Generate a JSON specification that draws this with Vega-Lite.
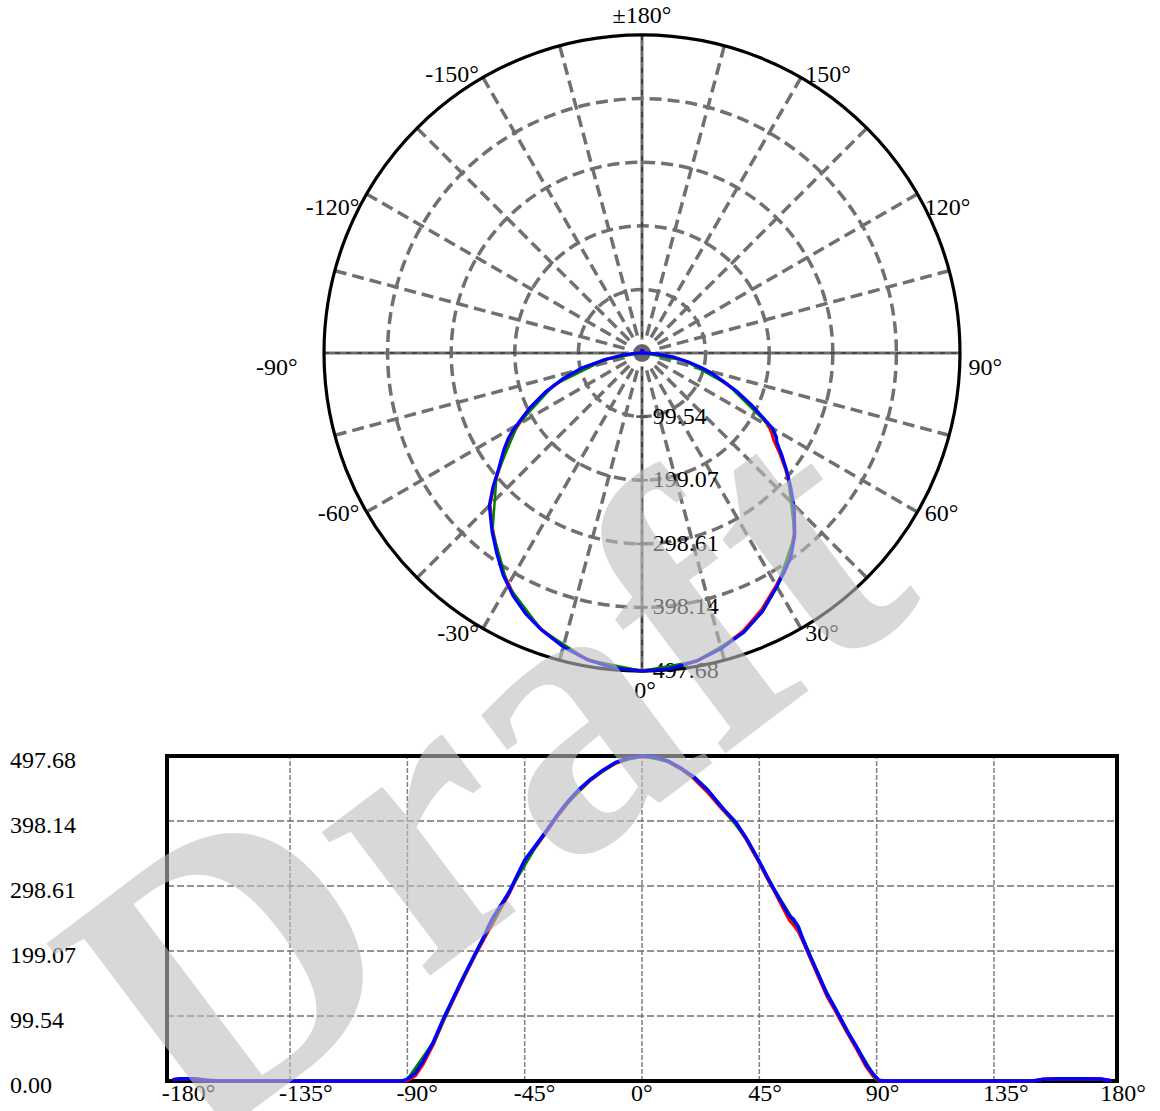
{
  "$schema": "https://vega.github.io/schema/vega-lite/v6.json",
  "autosize": {"type": "none"},
  "padding": 0,
  "width": 1160,
  "height": 1111,
  "background": "white",
  "config": {"view": {"stroke": null}, "font": "Liberation Serif"},
  "datasets": {
    "curve": [
      {"s":"blue","a":-180,"v":2},{"s":"blue","a":-177,"v":3.5},{"s":"blue","a":-172,"v":3.5},{"s":"blue","a":-167,"v":1},{"s":"blue","a":-162,"v":0},{"s":"blue","a":-130,"v":0},{"s":"blue","a":-100,"v":0},{"s":"blue","a":-94,"v":0},{"s":"blue","a":-92,"v":0},{"s":"blue","a":-90,"v":3},{"s":"blue","a":-87,"v":12},{"s":"blue","a":-84,"v":30},{"s":"blue","a":-80,"v":60},{"s":"blue","a":-76,"v":97},{"s":"blue","a":-72,"v":130},{"s":"blue","a":-68,"v":163},{"s":"blue","a":-64,"v":195},{"s":"blue","a":-61,"v":218},{"s":"blue","a":-59,"v":236},{"s":"blue","a":-57.5,"v":248},{"s":"blue","a":-55,"v":264},{"s":"blue","a":-51,"v":289},{"s":"blue","a":-48,"v":314},{"s":"blue","a":-45,"v":338},{"s":"blue","a":-40,"v":365},{"s":"blue","a":-36,"v":387},{"s":"blue","a":-32,"v":410},{"s":"blue","a":-28,"v":430},{"s":"blue","a":-24,"v":447},{"s":"blue","a":-20,"v":461},{"s":"blue","a":-15,"v":476},{"s":"blue","a":-10,"v":488},{"s":"blue","a":-5,"v":495},{"s":"blue","a":0,"v":497.68},{"s":"blue","a":5,"v":496},{"s":"blue","a":10,"v":490},{"s":"blue","a":15,"v":479},{"s":"blue","a":20,"v":465},{"s":"blue","a":25,"v":446},{"s":"blue","a":30,"v":422},{"s":"blue","a":33,"v":409},{"s":"blue","a":36,"v":396},{"s":"blue","a":40,"v":372},{"s":"blue","a":44.5,"v":340},{"s":"blue","a":48,"v":313},{"s":"blue","a":51,"v":291},{"s":"blue","a":54,"v":270},{"s":"blue","a":56.5,"v":253},{"s":"blue","a":58,"v":248},{"s":"blue","a":60,"v":236},{"s":"blue","a":62,"v":214},{"s":"blue","a":64.6,"v":190},{"s":"blue","a":68,"v":160},{"s":"blue","a":71,"v":133},{"s":"blue","a":74,"v":112},{"s":"blue","a":76,"v":97},{"s":"blue","a":79,"v":75},{"s":"blue","a":82.5,"v":51},{"s":"blue","a":86,"v":25},{"s":"blue","a":88.8,"v":10},{"s":"blue","a":91,"v":1},{"s":"blue","a":93,"v":0},{"s":"blue","a":120,"v":0},{"s":"blue","a":150,"v":0},{"s":"blue","a":154,"v":2.5},{"s":"blue","a":160,"v":3.5},{"s":"blue","a":170,"v":3.5},{"s":"blue","a":176,"v":3},{"s":"blue","a":180,"v":0.5},
      {"s":"red","a":-180,"v":2},{"s":"red","a":-177,"v":3.5},{"s":"red","a":-172,"v":3.5},{"s":"red","a":-167,"v":1},{"s":"red","a":-162,"v":0},{"s":"red","a":-130,"v":0},{"s":"red","a":-100,"v":0},{"s":"red","a":-94,"v":0},{"s":"red","a":-92,"v":0},{"s":"red","a":-90,"v":1},{"s":"red","a":-87,"v":8},{"s":"red","a":-84,"v":26},{"s":"red","a":-80,"v":57},{"s":"red","a":-76,"v":94},{"s":"red","a":-72,"v":128},{"s":"red","a":-68,"v":161},{"s":"red","a":-64,"v":193},{"s":"red","a":-61,"v":215},{"s":"red","a":-59,"v":230},{"s":"red","a":-57.5,"v":240},{"s":"red","a":-55,"v":259},{"s":"red","a":-51,"v":287},{"s":"red","a":-48,"v":312},{"s":"red","a":-45,"v":336},{"s":"red","a":-40,"v":363},{"s":"red","a":-36,"v":385},{"s":"red","a":-32,"v":408},{"s":"red","a":-28,"v":428},{"s":"red","a":-24,"v":445},{"s":"red","a":-20,"v":460},{"s":"red","a":-15,"v":475},{"s":"red","a":-10,"v":487},{"s":"red","a":-5,"v":494},{"s":"red","a":0,"v":497},{"s":"red","a":5,"v":495},{"s":"red","a":10,"v":489},{"s":"red","a":15,"v":478},{"s":"red","a":20,"v":463},{"s":"red","a":25,"v":443},{"s":"red","a":30,"v":420},{"s":"red","a":33,"v":407},{"s":"red","a":36,"v":394},{"s":"red","a":40,"v":370},{"s":"red","a":44.5,"v":338},{"s":"red","a":48,"v":311},{"s":"red","a":51,"v":289},{"s":"red","a":54,"v":266},{"s":"red","a":56.5,"v":247},{"s":"red","a":58,"v":240},{"s":"red","a":60,"v":229},{"s":"red","a":62,"v":212},{"s":"red","a":64.6,"v":188},{"s":"red","a":68,"v":157},{"s":"red","a":71,"v":130},{"s":"red","a":74,"v":109},{"s":"red","a":76,"v":94},{"s":"red","a":79,"v":72},{"s":"red","a":82.5,"v":48},{"s":"red","a":86,"v":22},{"s":"red","a":88.8,"v":7},{"s":"red","a":91,"v":0},{"s":"red","a":93,"v":0},{"s":"red","a":120,"v":0},{"s":"red","a":150,"v":0},{"s":"red","a":154,"v":2.5},{"s":"red","a":160,"v":3.5},{"s":"red","a":170,"v":3.5},{"s":"red","a":176,"v":3},{"s":"red","a":180,"v":0.5},
      {"s":"green","a":-90,"v":2},{"s":"green","a":-80,"v":59},{"s":"green","a":-70,"v":147},{"s":"green","a":-60,"v":225},{"s":"green","a":-50,"v":297},{"s":"green","a":-40,"v":364},{"s":"green","a":-30,"v":420},{"s":"green","a":-20,"v":461},{"s":"green","a":-10,"v":488},{"s":"green","a":0,"v":497.5},{"s":"green","a":10,"v":490},{"s":"green","a":20,"v":466},{"s":"green","a":25,"v":447},{"s":"green","a":30,"v":423},{"s":"green","a":40,"v":372},{"s":"green","a":50,"v":298},{"s":"green","a":58,"v":246},{"s":"green","a":60,"v":234},{"s":"green","a":70,"v":142},{"s":"green","a":80,"v":67},{"s":"green","a":90,"v":2}
    ]
  },
  "layer": [
    {
      "layer": [
        {
          "data": {"values": [{"a": 15}, {"a": 30}, {"a": 45}, {"a": 60}, {"a": 75}, {"a": 105}, {"a": 120}, {"a": 135}, {"a": 150}, {"a": 165}, {"a": -15}, {"a": -30}, {"a": -45}, {"a": -60}, {"a": -75}, {"a": -105}, {"a": -120}, {"a": -135}, {"a": -150}, {"a": -165}]},
          "transform": [
            {"calculate": "0", "as": "ox"},
            {"calculate": "0", "as": "oy"},
            {"calculate": "497.68 * sin(datum.a * PI / 180)", "as": "ex"},
            {"calculate": "-497.68 * cos(datum.a * PI / 180)", "as": "ey"}
          ],
          "mark": {"type": "rule", "color": "#707070", "strokeWidth": 3.5, "strokeDash": [12, 6]},
          "encoding": {
            "x": {"field": "ox", "type": "quantitative", "scale": {"domain": [-1004.74, 810.68], "nice": false, "zero": false}, "axis": null},
            "y": {"field": "oy", "type": "quantitative", "scale": {"domain": [-1186.28, 552.45], "nice": false, "zero": false}, "axis": null},
            "x2": {"field": "ex"},
            "y2": {"field": "ey"}
          }
        },
        {
          "data": {"values": [{"r": 99.54}, {"r": 199.07}, {"r": 298.61}, {"r": 398.14}]},
          "transform": [{"calculate": "0", "as": "ox"}, {"calculate": "0", "as": "oy"}],
          "mark": {"type": "point", "shape": "circle", "filled": false, "stroke": "#707070", "strokeWidth": 3.5, "strokeDash": [12, 6], "opacity": 1},
          "encoding": {
            "x": {"field": "ox", "type": "quantitative", "scale": {"domain": [-1004.74, 810.68], "nice": false, "zero": false}, "axis": null},
            "y": {"field": "oy", "type": "quantitative", "scale": {"domain": [-1186.28, 552.45], "nice": false, "zero": false}, "axis": null},
            "size": {"field": "r", "type": "quantitative", "scale": {"type": "pow", "exponent": 2, "domain": [0, 497.68], "range": [0, 404496], "zero": true}, "legend": null}
          }
        },
        {
          "data": {"values": [{"a": 0}, {"a": 90}]},
          "transform": [
            {"calculate": "497.68 * sin(datum.a * PI / 180)", "as": "ex"},
            {"calculate": "-497.68 * cos(datum.a * PI / 180)", "as": "ey"},
            {"calculate": "-datum.ex", "as": "sx"},
            {"calculate": "-datum.ey", "as": "sy"}
          ],
          "mark": {"type": "rule", "color": "#6e6e6e", "strokeWidth": 3},
          "encoding": {
            "x": {"field": "sx", "type": "quantitative", "scale": {"domain": [-1004.74, 810.68], "nice": false, "zero": false}, "axis": null},
            "y": {"field": "sy", "type": "quantitative", "scale": {"domain": [-1186.28, 552.45], "nice": false, "zero": false}, "axis": null},
            "x2": {"field": "ex"},
            "y2": {"field": "ey"}
          }
        },
        {
          "data": {"values": [{"a": 0}, {"a": 90}]},
          "transform": [
            {"calculate": "497.68 * sin(datum.a * PI / 180)", "as": "ex"},
            {"calculate": "-497.68 * cos(datum.a * PI / 180)", "as": "ey"},
            {"calculate": "-datum.ex", "as": "sx"},
            {"calculate": "-datum.ey", "as": "sy"}
          ],
          "mark": {"type": "rule", "color": "#222222", "strokeWidth": 1.2, "strokeDash": [5, 6]},
          "encoding": {
            "x": {"field": "sx", "type": "quantitative", "scale": {"domain": [-1004.74, 810.68], "nice": false, "zero": false}, "axis": null},
            "y": {"field": "sy", "type": "quantitative", "scale": {"domain": [-1186.28, 552.45], "nice": false, "zero": false}, "axis": null},
            "x2": {"field": "ex"},
            "y2": {"field": "ey"}
          }
        },
        {
          "data": {"values": [{"r": 99.54}, {"r": 199.07}, {"r": 298.61}, {"r": 398.14}, {"r": 497.68}]},
          "transform": [
            {"calculate": "-datum.r", "as": "py"},
            {"calculate": "-9", "as": "t1"},
            {"calculate": "9", "as": "t2"}
          ],
          "mark": {"type": "rule", "color": "#555555", "strokeWidth": 2.5},
          "encoding": {
            "x": {"field": "t1", "type": "quantitative", "scale": {"domain": [-1004.74, 810.68], "nice": false, "zero": false}, "axis": null},
            "x2": {"field": "t2"},
            "y": {"field": "py", "type": "quantitative", "scale": {"domain": [-1186.28, 552.45], "nice": false, "zero": false}, "axis": null}
          }
        },
        {
          "data": {"values": [{"r": 497.68}]},
          "transform": [{"calculate": "0", "as": "ox"}, {"calculate": "0", "as": "oy"}],
          "mark": {"type": "point", "shape": "circle", "filled": false, "stroke": "black", "strokeWidth": 3.2, "opacity": 1},
          "encoding": {
            "x": {"field": "ox", "type": "quantitative", "scale": {"domain": [-1004.74, 810.68], "nice": false, "zero": false}, "axis": null},
            "y": {"field": "oy", "type": "quantitative", "scale": {"domain": [-1186.28, 552.45], "nice": false, "zero": false}, "axis": null},
            "size": {"field": "r", "type": "quantitative", "scale": {"type": "pow", "exponent": 2, "domain": [0, 497.68], "range": [0, 404496], "zero": true}, "legend": null}
          }
        },
        {
          "data": {"values": [{"r": 21, "c": "white"}, {"r": 14, "c": "#666666"}]},
          "transform": [{"calculate": "0", "as": "ox"}, {"calculate": "0", "as": "oy"}],
          "mark": {"type": "point", "shape": "circle", "filled": true, "opacity": 1, "strokeWidth": 0},
          "encoding": {
            "x": {"field": "ox", "type": "quantitative", "scale": {"domain": [-1004.74, 810.68], "nice": false, "zero": false}, "axis": null},
            "y": {"field": "oy", "type": "quantitative", "scale": {"domain": [-1186.28, 552.45], "nice": false, "zero": false}, "axis": null},
            "size": {"field": "r", "type": "quantitative", "scale": {"type": "pow", "exponent": 2, "domain": [0, 497.68], "range": [0, 404496], "zero": true}, "legend": null},
            "color": {"field": "c", "type": "nominal", "scale": null},
            "order": {"field": "r", "type": "quantitative", "sort": "descending"}
          }
        },
        {
          "data": {"values": [{"t": "99.54", "r": 99.54}, {"t": "199.07", "r": 199.07}, {"t": "298.61", "r": 298.61}, {"t": "398.14", "r": 398.14}, {"t": "497.68", "r": 497.68}]},
          "transform": [{"calculate": "-datum.r", "as": "py"}, {"calculate": "17", "as": "px"}],
          "mark": {"type": "text", "align": "left", "baseline": "middle", "fontSize": 24, "color": "black", "dy": 0},
          "encoding": {
            "x": {"field": "px", "type": "quantitative", "scale": {"domain": [-1004.74, 810.68], "nice": false, "zero": false}, "axis": null},
            "y": {"field": "py", "type": "quantitative", "scale": {"domain": [-1186.28, 552.45], "nice": false, "zero": false}, "axis": null},
            "text": {"field": "t", "type": "nominal"}
          }
        },
        {
          "data": {"values": [{"t": "±180°", "a": 180}, {"t": "150°", "a": 150}, {"t": "120°", "a": 120}, {"t": "90°", "a": 90}, {"t": "60°", "a": 60}, {"t": "30°", "a": 30}, {"t": "0°", "a": 0}, {"t": "-30°", "a": -30}, {"t": "-60°", "a": -60}, {"t": "-90°", "a": -90}, {"t": "-120°", "a": -120}, {"t": "-150°", "a": -150}]},
          "transform": [
            {"calculate": "abs(sin(datum.a * PI / 180)) < 0.1 ? 526 : 511", "as": "lr"},
            {"calculate": "datum.lr * sin(datum.a * PI / 180)", "as": "px"},
            {"calculate": "-datum.lr * cos(datum.a * PI / 180)", "as": "py"}
          ],
          "mark": {"type": "text", "baseline": "middle", "fontSize": 24, "color": "black",
            "dy": {"expr": "abs(datum.a) == 150 ? 5 : (abs(datum.a) == 120 ? 18 : (abs(datum.a) == 90 ? 15 : (abs(datum.a) == 180 ? -1 : (datum.a == 0 ? 2 : -2))))"},
            "dx": {"expr": "datum.a == -90 ? -18 : (datum.a == 0 ? 3 : 0)"},
            "align": {"expr": "datum.a > 0 && datum.a < 180 ? 'left' : (datum.a < 0 ? 'right' : 'center')"}},
          "encoding": {
            "x": {"field": "px", "type": "quantitative", "scale": {"domain": [-1004.74, 810.68], "nice": false, "zero": false}, "axis": null},
            "y": {"field": "py", "type": "quantitative", "scale": {"domain": [-1186.28, 552.45], "nice": false, "zero": false}, "axis": null},
            "text": {"field": "t", "type": "nominal"}
          }
        },
        {
          "data": {"name": "curve"},
          "transform": [
            {"filter": "datum.s == 'red'"},
            {"calculate": "datum.v * sin(datum.a * PI / 180)", "as": "px"},
            {"calculate": "-datum.v * cos(datum.a * PI / 180)", "as": "py"}
          ],
          "mark": {"type": "line", "color": "#ff0000", "strokeWidth": 3},
          "encoding": {
            "x": {"field": "px", "type": "quantitative", "scale": {"domain": [-1004.74, 810.68], "nice": false, "zero": false}, "axis": null},
            "y": {"field": "py", "type": "quantitative", "scale": {"domain": [-1186.28, 552.45], "nice": false, "zero": false}, "axis": null},
            "order": {"field": "a", "type": "quantitative"}
          }
        },
        {
          "data": {"name": "curve"},
          "transform": [
            {"filter": "datum.s == 'green'"},
            {"calculate": "datum.v * sin(datum.a * PI / 180)", "as": "px"},
            {"calculate": "-datum.v * cos(datum.a * PI / 180)", "as": "py"}
          ],
          "mark": {"type": "line", "color": "#008000", "strokeWidth": 2.5},
          "encoding": {
            "x": {"field": "px", "type": "quantitative", "scale": {"domain": [-1004.74, 810.68], "nice": false, "zero": false}, "axis": null},
            "y": {"field": "py", "type": "quantitative", "scale": {"domain": [-1186.28, 552.45], "nice": false, "zero": false}, "axis": null},
            "order": {"field": "a", "type": "quantitative"}
          }
        },
        {
          "data": {"name": "curve"},
          "transform": [
            {"filter": "datum.s == 'blue'"},
            {"calculate": "datum.v * sin(datum.a * PI / 180)", "as": "px"},
            {"calculate": "-datum.v * cos(datum.a * PI / 180)", "as": "py"}
          ],
          "mark": {"type": "line", "color": "#0000ff", "strokeWidth": 3.2},
          "encoding": {
            "x": {"field": "px", "type": "quantitative", "scale": {"domain": [-1004.74, 810.68], "nice": false, "zero": false}, "axis": null},
            "y": {"field": "py", "type": "quantitative", "scale": {"domain": [-1186.28, 552.45], "nice": false, "zero": false}, "axis": null},
            "order": {"field": "a", "type": "quantitative"}
          }
        }
      ]
    },
    {
      "layer": [
        {
          "data": {"values": [{"g": -135}, {"g": -90}, {"g": -45}, {"g": 0}, {"g": 45}, {"g": 90}, {"g": 135}]},
          "transform": [{"calculate": "0", "as": "lo"}, {"calculate": "497.68", "as": "hi"}],
          "mark": {"type": "rule", "color": "#808080", "strokeWidth": 1.5, "strokeDash": [5, 2]},
          "encoding": {
            "x": {"field": "g", "type": "quantitative", "scale": {"domain": [-246.26, 198.69], "nice": false, "zero": false}, "axis": null},
            "y": {"field": "lo", "type": "quantitative", "scale": {"domain": [-45.94, 1655.36], "nice": false, "zero": false}, "axis": null},
            "y2": {"field": "hi"}
          }
        },
        {
          "data": {"values": [{"g": 99.54}, {"g": 199.07}, {"g": 298.61}, {"g": 398.14}]},
          "transform": [{"calculate": "-182.2", "as": "lo"}, {"calculate": "182.2", "as": "hi"}],
          "mark": {"type": "rule", "color": "#707070", "strokeWidth": 1.5, "strokeDash": [7, 3]},
          "encoding": {
            "y": {"field": "g", "type": "quantitative", "scale": {"domain": [-45.94, 1655.36], "nice": false, "zero": false}, "axis": null},
            "x": {"field": "lo", "type": "quantitative", "scale": {"domain": [-246.26, 198.69], "nice": false, "zero": false}, "axis": null},
            "x2": {"field": "hi"}
          }
        },
        {
          "data": {"values": [{"x1": -182.2, "x2": 182.2, "y1": 0, "y2": 497.68}]},
          "mark": {"type": "rect", "filled": false, "stroke": "black", "strokeWidth": 4, "opacity": 1},
          "encoding": {
            "x": {"field": "x1", "type": "quantitative", "scale": {"domain": [-246.26, 198.69], "nice": false, "zero": false}, "axis": null},
            "x2": {"field": "x2"},
            "y": {"field": "y1", "type": "quantitative", "scale": {"domain": [-45.94, 1655.36], "nice": false, "zero": false}, "axis": null},
            "y2": {"field": "y2"}
          }
        },
        {
          "data": {"values": [{"v": -180, "t": "-180°"}, {"v": -135, "t": "-135°"}, {"v": -90, "t": "-90°"}, {"v": -45, "t": "-45°"}, {"v": 0, "t": "0°"}, {"v": 45, "t": "45°"}, {"v": 90, "t": "90°"}, {"v": 135, "t": "135°"}, {"v": 180, "t": "180°"}]},
          "transform": [{"calculate": "-1.5", "as": "ly"}],
          "mark": {"type": "text", "align": "left", "baseline": "top", "dx": -11, "fontSize": 24, "color": "black"},
          "encoding": {
            "x": {"field": "v", "type": "quantitative", "scale": {"domain": [-246.26, 198.69], "nice": false, "zero": false}, "axis": null},
            "y": {"field": "ly", "type": "quantitative", "scale": {"domain": [-45.94, 1655.36], "nice": false, "zero": false}, "axis": null},
            "text": {"field": "t", "type": "nominal"}
          }
        },
        {
          "data": {"values": [{"v": 0, "t": "0.00"}, {"v": 99.54, "t": "99.54"}, {"v": 199.07, "t": "199.07"}, {"v": 298.61, "t": "298.61"}, {"v": 398.14, "t": "398.14"}, {"v": 497.68, "t": "497.68"}]},
          "transform": [{"calculate": "-242.42", "as": "lx"}],
          "mark": {"type": "text", "align": "left", "baseline": "middle", "dy": 5, "fontSize": 24, "color": "black"},
          "encoding": {
            "x": {"field": "lx", "type": "quantitative", "scale": {"domain": [-246.26, 198.69], "nice": false, "zero": false}, "axis": null},
            "y": {"field": "v", "type": "quantitative", "scale": {"domain": [-45.94, 1655.36], "nice": false, "zero": false}, "axis": null},
            "text": {"field": "t", "type": "nominal"}
          }
        },
        {
          "data": {"name": "curve"},
          "transform": [{"filter": "datum.s == 'red'"}],
          "mark": {"type": "line", "color": "#ff0000", "strokeWidth": 3.5},
          "encoding": {
            "x": {"field": "a", "type": "quantitative", "scale": {"domain": [-246.26, 198.69], "nice": false, "zero": false}, "axis": null},
            "y": {"field": "v", "type": "quantitative", "scale": {"domain": [-45.94, 1655.36], "nice": false, "zero": false}, "axis": null}
          }
        },
        {
          "data": {"name": "curve"},
          "transform": [{"filter": "datum.s == 'green'"}],
          "mark": {"type": "line", "color": "#008000", "strokeWidth": 3},
          "encoding": {
            "x": {"field": "a", "type": "quantitative", "scale": {"domain": [-246.26, 198.69], "nice": false, "zero": false}, "axis": null},
            "y": {"field": "v", "type": "quantitative", "scale": {"domain": [-45.94, 1655.36], "nice": false, "zero": false}, "axis": null}
          }
        },
        {
          "data": {"name": "curve"},
          "transform": [{"filter": "datum.s == 'blue'"}],
          "mark": {"type": "line", "color": "#0000ff", "strokeWidth": 3.5},
          "encoding": {
            "x": {"field": "a", "type": "quantitative", "scale": {"domain": [-246.26, 198.69], "nice": false, "zero": false}, "axis": null},
            "y": {"field": "v", "type": "quantitative", "scale": {"domain": [-45.94, 1655.36], "nice": false, "zero": false}, "axis": null}
          }
        },
        {
          "data": {"values": [{"w": "Draft"}]},
          "mark": {"type": "text", "font": "Liberation Serif", "fontWeight": "bold", "fontSize": 392, "angle": 323, "color": "#bfbfbf", "opacity": 0.6, "align": "center", "baseline": "middle", "clip": true},
          "encoding": {
            "x": {"datum": -58.5, "type": "quantitative", "scale": {"domain": [-246.26, 198.69], "nice": false, "zero": false}, "axis": null},
            "y": {"datum": 456.0, "type": "quantitative", "scale": {"domain": [-45.94, 1655.36], "nice": false, "zero": false}, "axis": null},
            "text": {"field": "w", "type": "nominal"}
          }
        }
      ]
    }
  ],
  "resolve": {"scale": {"x": "independent", "y": "independent"}}
}
